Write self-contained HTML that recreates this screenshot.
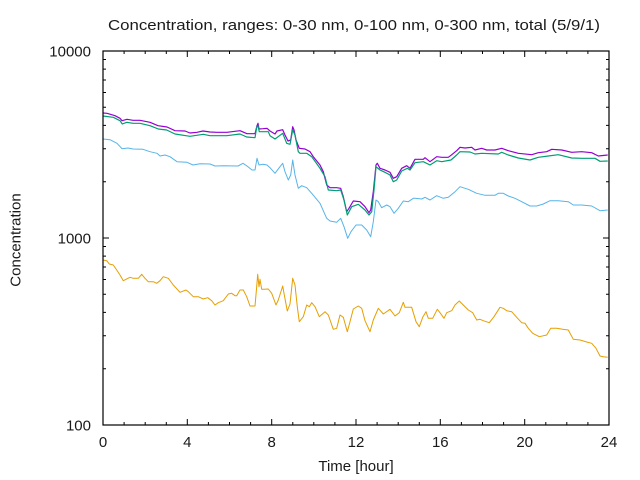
<!DOCTYPE html>
<html><head><meta charset="utf-8"><style>
html,body{margin:0;padding:0;background:#fff;}
svg{display:block;}
text{font-family:"Liberation Sans","DejaVu Sans",sans-serif;fill:#1a1a1a;}
</style></head><body>
<svg width="640" height="480" viewBox="0 0 640 480" xmlns="http://www.w3.org/2000/svg">
<rect width="640" height="480" fill="#fff"/>
<text x="354" y="30" font-size="15" text-anchor="middle" textLength="492" lengthAdjust="spacingAndGlyphs">Concentration, ranges: 0-30 nm, 0-100 nm, 0-300 nm, total (5/9/1)</text>

<g stroke="#000" stroke-width="1" fill="none">
<path d="M103,425h6M609,425h-6M103,238h6M609,238h-6M103,51h6M609,51h-6"/>
<path d="M103,368.7h3M103,335.8h3M103,312.4h3M103,294.3h3M103,279.5h3M103,267h3M103,256.1h3M103,246.5h3
M103,181.7h3M103,148.8h3M103,125.4h3M103,107.3h3M103,92.5h3M103,80h3M103,69.1h3M103,59.5h3
M609,368.7h-3M609,335.8h-3M609,312.4h-3M609,294.3h-3M609,279.5h-3M609,267h-3M609,256.1h-3M609,246.5h-3
M609,181.7h-3M609,148.8h-3M609,125.4h-3M609,107.3h-3M609,92.5h-3M609,80h-3M609,69.1h-3M609,59.5h-3"/>
<path d="M187.3,425v-6M271.7,425v-6M356,425v-6M440.3,425v-6M524.7,425v-6
M187.3,51v6M271.7,51v6M356,51v6M440.3,51v6M524.7,51v6"/>
<path d="M124.1,425v-3M145.2,425v-3M166.3,425v-3M208.4,425v-3M229.5,425v-3M250.6,425v-3M292.8,425v-3M313.8,425v-3M334.9,425v-3M377.1,425v-3M398.2,425v-3M419.3,425v-3M461.4,425v-3M482.5,425v-3M503.6,425v-3M545.8,425v-3M566.8,425v-3M587.9,425v-3
M124.1,51v3M145.2,51v3M166.3,51v3M208.4,51v3M229.5,51v3M250.6,51v3M292.8,51v3M313.8,51v3M334.9,51v3M377.1,51v3M398.2,51v3M419.3,51v3M461.4,51v3M482.5,51v3M503.6,51v3M545.8,51v3M566.8,51v3M587.9,51v3"/>
</g>

<g fill="none" stroke-width="1.2" stroke-linejoin="round">
<polyline stroke="#9400d3" points="103,113 107,113.3 115,115.7 120,118.3 122,120.7 127,119.3 133,120.3 140,120.3 150,122.3 158,125.7 167,127 175,130.7 185,131 190,133 197,132.3 203,131 210,132 217,132.3 227,132.3 240,130.7 247,133.7 255,133.7 257,125.7 258,123.3 259,129 263,128.7 267,128.3 270,131 275,134 277,131 282.7,129.7 285,135 288,141 290.7,140 292.7,126.7 294,130 296,140 299.3,148.3 305,149 310,151.7 313.3,156.7 320,165 323.3,171.7 326.7,185 330,187.7 336.7,187.7 340.7,188.3 343.3,196.7 346.7,211.7 349,208.3 353.3,201 360,201.7 365,206.7 369,212.7 370.7,210 373.3,191.7 376,165 377.3,163.3 380,168.3 385,170 390,172.3 393.3,178.3 396.7,176.7 401.7,168.3 406.7,165.7 410,168.3 415,159.3 423.3,159.3 425,157.7 430,161.7 436.7,156.7 441.7,157.3 448.3,157.3 451,155.3 456.7,150.7 460,147.3 465,148 471.7,147.3 475,150 481.7,148.3 486.7,150 495,150 501.7,148.3 508.3,150.7 518.3,153.3 531.7,154.7 538.3,152.7 546.7,151.7 551.7,149.3 561.7,150 571.7,152.3 581.7,151.7 591.7,152.7 598.3,156 607.7,155"/>
<polyline stroke="#009e73" points="103,116 113.3,117.3 120,120.7 122.3,124 126.7,122.3 133.3,123.3 140,123.3 150,125.7 158.3,129 166.7,130 175,134 190,136.3 203.3,134.3 210,135.7 226.7,135.7 240,134 246.7,137 255,137.7 256.7,127.3 258,125.7 259.3,131.7 263.3,131.7 268.3,131.7 270,135.7 275,139 282.7,133.3 286.7,143.3 290,144.3 292.7,130 295,135 298.3,151.7 300,153.3 306.7,153.3 311.7,156.7 320,168.3 325,176.7 328.3,190 336.7,190.7 340.7,190 344,200 347.3,215 351.7,206.7 358.3,204.3 365,210 369,215 371.7,211.7 374,190 376,166.7 380,170 385,172.3 390,175 393.3,181.7 396.7,180 401.7,171 407.3,168.3 410,170 415,162.7 423.3,161.7 430,165 436.7,160.7 441.7,161.7 451,160 456.7,155 460,151.7 470,152 475,154 481.7,153.3 498.3,154 501.7,152.3 508.3,155 518.3,158 530,160 538.3,157.3 548.3,156 558.3,154.7 571.7,158 581.7,158.3 595,158.3 600,161.3 607.7,161"/>
</g>
<g fill="none" stroke-width="1" stroke-linejoin="round">
<polyline stroke="#56b4e9" points="103,139 110,139.7 117,143.3 122,148.7 128,148 133,149 143,149.3 150,151.7 157,153.3 160,156 165,155 170,156.7 177,161.7 187,162.3 193,165 200,163.7 210,164 215,166 223,165.7 238,166 243,163.3 247,166 252,170 255,170 257,158.3 259,165 263,164.3 267,165 270,167.7 275,173.3 280,166.7 282.7,163.3 285,171.7 288.3,180 290.7,175 292.7,160 295,175 298.3,188.3 301.7,185.7 306.7,187.7 311.7,193.3 320,203.3 326.7,218.3 330,221 336.7,222.3 340.7,218.3 344,226.7 347.7,238.3 351,231.7 356,225 361.7,225 366.7,230 370.7,236.7 373.3,221.7 376,200 378.3,201.7 381.7,207.7 386.7,205 390,206.7 394,213.3 398.3,208.3 403.3,201 408.3,201.7 413.3,198.3 415,198.3 421.7,199 425,197.3 430,200 436.7,195.7 443.3,198.3 448.3,197.3 455,191.7 460,186.7 468.3,189.3 476.7,193.3 485,195.3 495,195.3 498.3,193.3 503.3,193.3 508.3,196 515,198.3 521.7,201.7 530,206 536.7,206 543.3,204 550,200.7 558.3,200.7 568.3,201.7 573.3,205 581.7,205 591.7,206 600,210.7 607.7,210"/>
<polyline stroke="#e69f00" points="103,260 106.7,260.7 109.3,264 113.3,265 116.7,270 120,275 123.3,280.7 130,277.3 133.3,278.3 138.3,278.3 141.7,274.3 145,278.3 148.3,281.7 153.3,281.7 156.7,283.3 160,280.7 163.3,276.7 168.3,278.3 173.3,285 180,292.3 186,290 188.3,291.7 193.3,296.7 198.3,296.7 203.3,299 207.7,297.7 211.7,300.7 215,305 218.3,302.7 223.3,300.7 228.3,294 231.7,293.3 235,295.7 236.7,295.7 240,290 243.3,290 246.7,296.7 250,306 255,306 256.7,286.7 257.7,274.3 259,286.7 260,279.3 261.7,289.3 264,289.3 268.3,289 271.7,293.3 276,305 278.3,300 282.7,286 284,293.3 287.3,311 290,304 292.7,278.3 295,285 297.3,306.7 299.3,321.7 303.3,316.7 306.7,305 309.3,306.7 311.7,302.7 315,306.7 319.3,316.7 325,311.7 328.3,315 333.3,329.3 336.7,328.3 340,315 343.3,317.3 347.3,331.7 350,321.7 353.3,309 358.3,306 361.7,308.3 365,320.7 370,331.7 373.3,320 378.3,308.3 383.3,314 390,309.3 395,316 399.3,312.7 403.3,302.3 405,307.3 411.7,307.3 416,321.7 419.3,326.7 422.7,317.3 426,311.7 428.3,318.3 432.7,318.3 437.3,309.3 440,312.7 444,318.3 446.7,312.7 451.7,310.7 455,305 459.3,301 463.3,305 468.3,310 472.7,312.7 476.7,320 480,319.3 483.3,320.7 489.3,322.7 494,316.7 500,307.3 503.3,308.3 506.7,310.7 511.7,311.7 516.7,317.3 521.7,322.7 525,323.3 528.3,328.3 532.7,333.3 539.3,336.7 546.7,335 550.7,328.3 556.7,328.3 562.7,329.3 568.3,330 573.3,339.3 580,340 586.7,342 591.7,343.3 596,348.3 600,356 603.3,356.7 607.7,357.3"/>
</g>

<rect x="103" y="51" width="506" height="374" fill="none" stroke="#000" stroke-width="1.2"/>

<g font-size="15" text-anchor="end">
<text x="91" y="56.5">10000</text>
<text x="91" y="243.5">1000</text>
<text x="91" y="430.5">100</text>
</g>
<g font-size="15" text-anchor="middle">
<text x="103" y="447">0</text>
<text x="187.3" y="447">4</text>
<text x="271.7" y="447">8</text>
<text x="356" y="447">12</text>
<text x="440.3" y="447">16</text>
<text x="524.7" y="447">20</text>
<text x="609" y="447">24</text>
<text x="356" y="471">Time [hour]</text>
<text x="0" y="0" transform="translate(20.5,240) rotate(-90)">Concentration</text>
</g>
</svg>
</body></html>
